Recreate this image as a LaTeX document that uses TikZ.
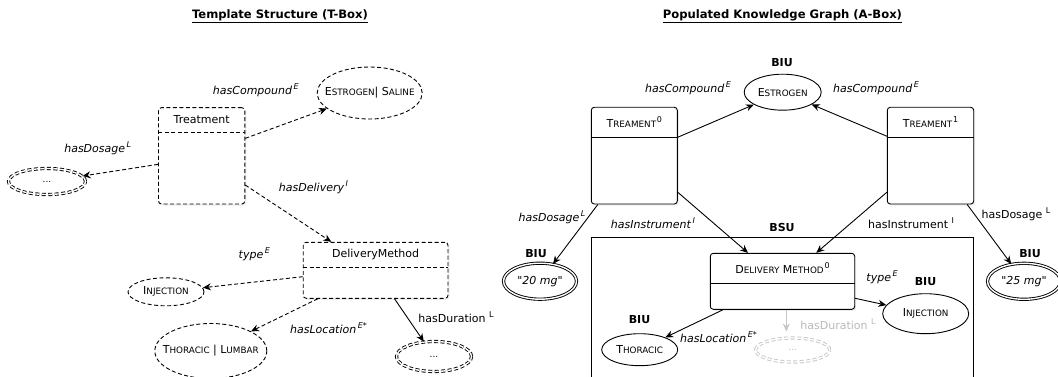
\documentclass[tikz,border=0pt]{standalone}
\usepackage{fontspec}
\setmainfont{DejaVu Sans}
\usetikzlibrary{shapes.geometric,arrows.meta,shadows}

% small caps faked with a smaller size of the capitals
\newcommand\smc[1]{{\fontsize{8.8}{10}\selectfont #1}}
% raised property markers (italic, upright, upright spaced)
\newcommand\supit[1]{\hspace{1.5pt}\raisebox{5pt}{\fontsize{8}{8}\selectfont\itshape #1}}
\newcommand\supup[1]{\hspace{3.5pt}\raisebox{5pt}{\fontsize{8}{8}\selectfont #1}}
\newcommand\supix[1]{\hspace{0.8pt}\raisebox{5pt}{\fontsize{8}{8}\selectfont #1}}
\newcommand\ellip{{\fontsize{9}{9}\selectfont ...}}
\newcommand\qt[1]{\textquotedbl#1\textquotedbl}

\tikzset{
  every node/.style={font=\fontsize{11}{13}\selectfont, inner sep=0pt},
  classbox/.style={draw, rounded corners=3pt, fill=white, line width=0.9pt,
    drop shadow={shadow xshift=1.5pt, shadow yshift=-1.5pt, opacity=0.15}},
  tdash/.style={dash pattern=on 4pt off 2.5pt},
  header/.style={anchor=north, inner sep=0pt},
  oval/.style={ellipse, draw, line width=0.9pt, inner sep=0pt, fill=white},
  dbl/.style={double, double distance=1.4pt},
  conn/.style={line width=0.9pt, -{Stealth[length=8pt,width=7pt]}},
  tag/.style={font=\fontsize{11}{13}\selectfont\bfseries},
  title/.style={font=\fontsize{11.6}{14}\selectfont\bfseries},
  faded/.style={draw=gray!45, text=gray!55},
}

\begin{document}
\begin{tikzpicture}[x=1pt,y=-1pt]
\path[use as bounding box] (0,0) rectangle (1058,377);
\clip (0,0) rectangle (1058,377);

% ---------------- T-Box ----------------
\node[title] (ttl) at (280,16) {\underline{Template Structure (T-Box)}};

\node[classbox, tdash, minimum width=86.3, minimum height=96.3] (tr) at (201.65,155.85) {};
\node[header, minimum width=86.3, minimum height=25] (trh) at (tr.north) {Treatment};
\draw[tdash, line width=0.9pt] (trh.south west) -- (trh.south east);

\node[classbox, tdash, minimum width=144.8, minimum height=56] (dm) at (375.6,270.3) {};
\node[header, minimum width=144.8, minimum height=25.4] (dmh) at (dm.north) {DeliveryMethod};
\draw[tdash, line width=0.9pt] (dmh.south west) -- (dmh.south east);

\node[oval, tdash, minimum width=105, minimum height=52] (essal) at (369.7,93)
  {\makebox[0pt]{E\smc{STROGEN}| S\smc{ALINE}}};
\node[oval, dbl, tdash, minimum width=77, minimum height=26] (dosL) at (47,181.5)
  {\makebox[0pt]{\ellip}};
\node[oval, tdash, minimum width=76, minimum height=28] (injL) at (166,291.8)
  {\makebox[0pt]{I\smc{NJECTION}}};
\node[oval, tdash, minimum width=112, minimum height=55] (thorL) at (210.8,351)
  {\makebox[0pt]{T\smc{HORACIC} | L\smc{UMBAR}}};
\node[oval, dbl, tdash, minimum width=75, minimum height=30] (durL) at (434,356.5)
  {\makebox[0pt]{\ellip}};

\draw[conn, tdash] ([yshift=17.5pt]tr.east) -- (essal);
\draw[conn, tdash] ([yshift=-8.5pt]tr.west) -- (dosL);
\draw[conn, tdash] ([yshift=-29.2pt]tr.east) -- ([xshift=-44.3pt]dm.north);
\draw[conn, tdash] ([yshift=-6.4pt]dm.west) -- (injL);
\draw[conn, tdash] ([xshift=-57.8pt]dm.south) -- (thorL);
\draw[conn] ([xshift=18.9pt]dm.south) -- (durL);

\node (lcmp) at (255.8,90) {\textit{hasCompound}\supit{E}};
\node (ldos) at (97.7,148) {\textit{hasDosage}\supit{L}};
\node (ldel) at (313.5,187) {\textit{hasDelivery}\supit{I}};
\node (ltyp) at (254.3,254) {\textit{type}\supit{E}};
\node (lloc) at (328.5,328) {\textit{hasLocation}\supit{E*}};
\node (ldur) at (456,317) {hasDuration\supup{L}};

% ---------------- A-Box ----------------
\node[title] (attl) at (782.4,16) {\underline{Populated Knowledge Graph (A-Box)}};

\node[draw, line width=0.9pt, minimum width=382.4, minimum height=162.3] (bsu) at (782.5,318.85) {};
\node[tag] (bsut) at (782,227) {BSU};

\node[classbox, minimum width=86, minimum height=96.7] (t0) at (634.3,155.65) {};
\node[header, minimum width=86, minimum height=30] (t0h) at (t0.north) {T\smc{REAMENT}\supix{0}};
\draw[line width=0.9pt] (t0h.south west) -- (t0h.south east);

\node[classbox, minimum width=86.4, minimum height=96.7] (t1) at (930.5,155.65) {};
\node[header, minimum width=86.4, minimum height=30] (t1h) at (t1.north) {T\smc{REAMENT}\supix{1}};
\draw[line width=0.9pt] (t1h.south west) -- (t1h.south east);

\node[classbox, minimum width=144.4, minimum height=56] (dm0) at (782.5,281.3) {};
\node[header, minimum width=144.4, minimum height=30] (dm0h) at (dm0.north) {D\smc{ELIVERY} M\smc{ETHOD}\supix{0}};
\draw[line width=0.9pt] (dm0h.south west) -- (dm0h.south east);

\node[oval, minimum width=77, minimum height=36] (estR) at (782.7,92.2)
  {\makebox[0pt]{E\smc{STROGEN}}};
\node[oval, dbl, minimum width=73, minimum height=36] (mg20) at (540,281.2)
  {\makebox[0pt]{\textit{\qt{20 mg}}}};
\node[oval, dbl, minimum width=73, minimum height=36] (mg25) at (1024,281.3)
  {\makebox[0pt]{\textit{\qt{25 mg}}}};
\node[oval, minimum width=86, minimum height=40] (injR) at (925.7,313.7)
  {\makebox[0pt]{I\smc{NJECTION}}};
\node[oval, minimum width=76, minimum height=32] (thorR) at (639.7,349.7)
  {\makebox[0pt]{T\smc{HORACIC}}};
\node[oval, dbl, tdash, faded, minimum width=74, minimum height=24] (durR) at (792.7,350)
  {\makebox[0pt]{\ellip}};

\node[tag] (b1) at (782,63) {BIU};
\node[tag] (b2) at (536,254) {BIU};
\node[tag] (b3) at (1030,254) {BIU};
\node[tag] (b4) at (925.5,282) {BIU};
\node[tag] (b5) at (639.5,320) {BIU};

\draw[conn] ([yshift=18.4pt]t0.east) -- (estR);
\draw[conn] ([yshift=19.4pt]t1.west) -- (estR);
\draw[conn] ([xshift=7pt]t0.south west) -- (mg20);
\draw[conn] ([yshift=-36.6pt]t0.east) -- ([xshift=-34.5pt]dm0.north);
\draw[conn] ([yshift=-36.6pt]t1.west) -- ([xshift=33.8pt]dm0.north);
\draw[conn] ([xshift=-7pt]t1.south east) -- (mg25);
\draw[conn] ([yshift=-17pt]dm0.east) -- (injR);
\draw[conn] ([xshift=-59.5pt]dm0.south) -- (thorR);
\draw[conn, draw=gray!45, shorten >=6pt] ([xshift=3.8pt]dm0.south) -- ([xshift=-6.4pt]durR.north);

\node (rcmp0) at (688,88) {\textit{hasCompound}\supit{E}};
\node (rcmp1) at (876,88) {\textit{hasCompound}\supit{E}};
\node (rdos0) at (552,217) {\textit{hasDosage}\supit{L}};
\node (rins0) at (653,223) {\textit{hasInstrument}\supit{I}};
\node (rins1) at (911,223) {hasInstrument\supup{I}};
\node (rdos1) at (1016,214) {hasDosage\supup{L}};
\node (rtyp) at (882,277) {\textit{type}\supit{E}};
\node (rloc) at (718.5,337) {\textit{hasLocation}\supit{E*}};
\node[text=gray!55] (rdur) at (838,324) {hasDuration\supup{L}};
\end{tikzpicture}
\end{document}
